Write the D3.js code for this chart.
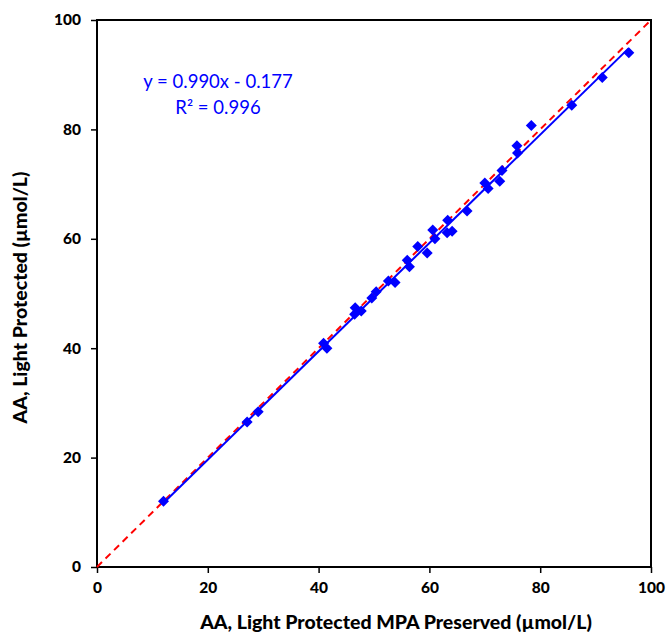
<!DOCTYPE html>
<html>
<head>
<meta charset="utf-8">
<script src="https://cdn.jsdelivr.net/npm/d3@7"></script>
<style>
  body { margin: 0; background: #fff; }
  text { font-family: Lato, "Open Sans", sans-serif; }
</style>
</head>
<body>
<div id="chart"></div>
<script>
// measured values (µmol/L)
const mpaPreserved = [12.0, 27.1, 29.1, 40.9, 41.5, 46.6, 46.5, 47.7, 49.6, 50.4,
  52.6, 53.8, 56.0, 56.4, 57.9, 59.6, 60.6, 61.0, 63.3, 63.2,
  64.1, 66.8, 70.0, 70.6, 72.7, 73.1, 75.8, 75.9, 78.4, 85.7,
  91.2, 96.0];
const lightProtected = [12.0, 26.5, 28.4, 40.9, 40.0, 47.4, 46.2, 46.8, 49.2, 50.3,
  52.3, 52.0, 56.1, 54.9, 58.6, 57.4, 61.6, 60.0, 63.4, 61.1,
  61.4, 65.1, 70.2, 69.2, 70.5, 72.5, 77.0, 75.7, 80.7, 84.4,
  89.5, 94.0];
const tickValues = [0, 20, 40, 60, 80, 100];
const slope = 0.990, intercept = -0.177;

const margin = { top: 20, right: 15, bottom: 66, left: 97 },
  width = 666 - margin.left - margin.right,
  height = 633 - margin.top - margin.bottom;

const svg = d3
  .select("#chart")
  .append("svg")
  .attr("width", 666)
  .attr("height", 633)
  .append("g")
  .attr("transform", `translate(${margin.left}, ${margin.top})`);

const x = d3.scaleLinear().domain([0, 100]).range([0, width]);
const y = d3.scaleLinear().domain([0, 100]).range([height, 0]);

// axes
const xAxis = svg
  .append("g")
  .attr("transform", `translate(0, ${height})`)
  .call(d3.axisBottom(x).tickValues(tickValues).tickSize(6).tickPadding(9));
const yAxis = svg
  .append("g")
  .call(d3.axisLeft(y).tickValues(tickValues).tickSize(6).tickPadding(10));
[xAxis, yAxis].forEach((a) => {
  a.select(".domain").remove();
  a.selectAll("line").attr("stroke", "#000").attr("stroke-width", 1.5);
  a.selectAll("text")
    .style("font-size", "15.5px")
    .style("font-weight", "900")
    .style("font-family", "Lato, sans-serif")
    .attr("fill", "#000");
});

// plot frame
svg
  .append("rect")
  .attr("width", width)
  .attr("height", height)
  .attr("fill", "none")
  .attr("stroke", "#000")
  .attr("stroke-width", 2);

// 1:1 line
svg
  .append("line")
  .attr("x1", x(0)).attr("y1", y(0))
  .attr("x2", x(100)).attr("y2", y(100))
  .attr("stroke", "#ff0000")
  .attr("stroke-width", 2)
  .attr("stroke-dasharray", "7,5");

// regression line
const xmin = d3.min(mpaPreserved), xmax = d3.max(mpaPreserved);
svg
  .append("line")
  .attr("x1", x(xmin)).attr("y1", y(slope * xmin + intercept))
  .attr("x2", x(xmax)).attr("y2", y(slope * xmax + intercept))
  .attr("stroke", "#0000ff")
  .attr("stroke-width", 2);

// points
const data = mpaPreserved.map((d, i) => ({ x: d, y: lightProtected[i] }));
svg
  .selectAll(".pt")
  .data(data)
  .join("path")
  .attr("class", "pt")
  .attr("d", "M0,-5.5L5.5,0L0,5.5L-5.5,0Z")
  .attr("transform", (d) => `translate(${x(d.x)}, ${y(d.y)})`)
  .attr("fill", "#0000ff");

// equation
svg
  .append("text")
  .attr("x", 121)
  .attr("y", 68)
  .attr("text-anchor", "middle")
  .style("font-size", "18.5px")
  .attr("fill", "#0000ff")
  .text("y = 0.990x - 0.177");
svg
  .append("text")
  .attr("x", 121)
  .attr("y", 94)
  .attr("text-anchor", "middle")
  .style("font-size", "18.5px")
  .attr("fill", "#0000ff")
  .text("R² = 0.996");

// axis titles
svg
  .append("text")
  .attr("x", 299)
  .attr("y", height + 62)
  .attr("text-anchor", "middle")
  .style("font-size", "19.5px")
  .style("font-weight", "900")
  .text("AA, Light Protected MPA Preserved (µmol/L)");
svg
  .append("text")
  .attr("transform", `translate(-70, ${height / 2 + 4}) rotate(-90)`)
  .attr("text-anchor", "middle")
  .style("font-size", "19.5px")
  .style("font-weight", "900")
  .text("AA, Light Protected (µmol/L)");
</script>
</body>
</html>
